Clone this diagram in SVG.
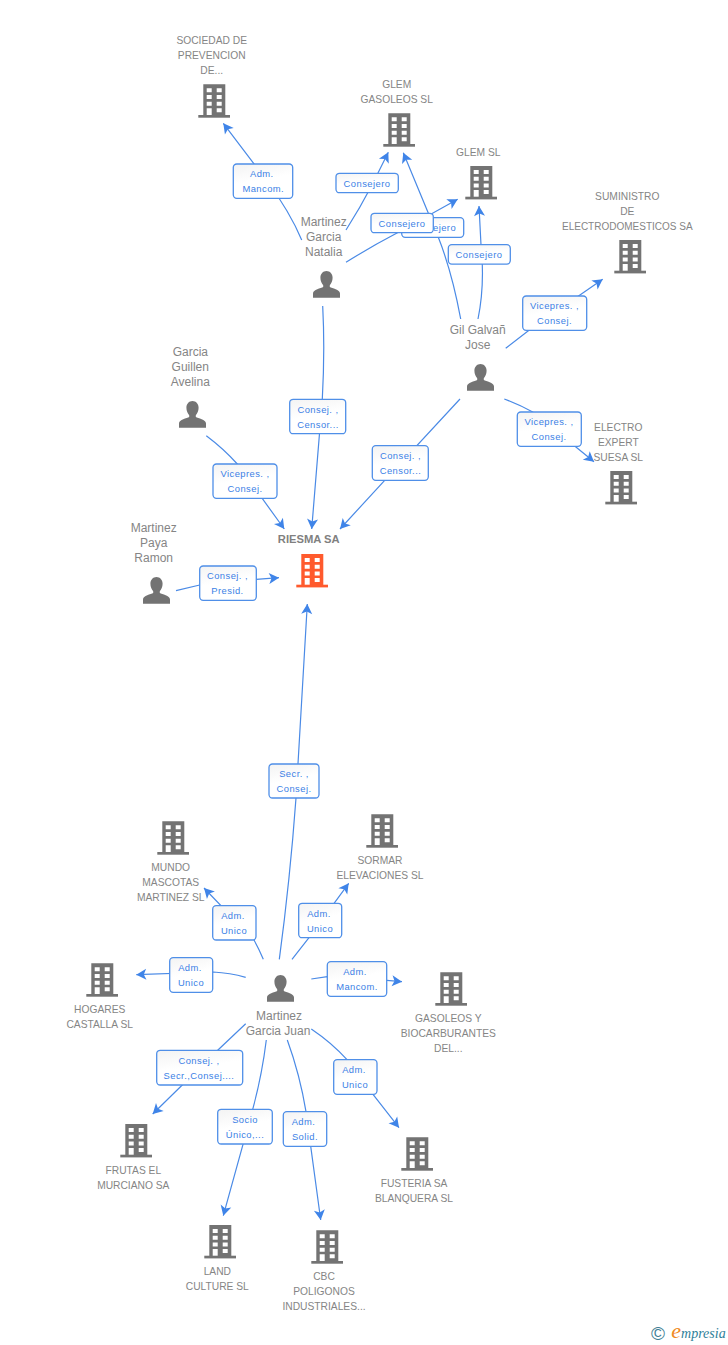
<svg xmlns="http://www.w3.org/2000/svg" xmlns:xlink="http://www.w3.org/1999/xlink" width="728" height="1345" viewBox="0 0 728 1345">
<style>
text{font-family:"Liberation Sans",Arial,sans-serif;text-anchor:middle}
.n{font-size:10.25px;fill:#858585}
.p{font-size:12px;fill:#858585}
.m{font-size:11.2px;font-weight:bold;fill:#808080}
.l{font-size:9.4px;fill:#3b7fe6;letter-spacing:.45px}
.c{fill:none;stroke:#4a8ae6;stroke-width:1.2;marker-end:url(#a)}
.b{fill:url(#g);stroke:#4f8fe8;stroke-width:1.3}
</style>
<defs>
<linearGradient id="g" x1="0" y1="0" x2="0.3" y2="1"><stop offset="0" stop-color="#f3f3f3"/><stop offset=".55" stop-color="#fff"/></linearGradient>
<marker id="a" markerUnits="userSpaceOnUse" markerWidth="14" markerHeight="14" viewBox="-12 -7 14 14" refX="0" refY="0" orient="auto"><path d="M0 0L-10 -5.5L-7.5 0L-10 5.5Z" fill="#3f84e8"/></marker>
<g id="bd"><rect x="0" y="30.7" width="31.7" height="2.7"/><path fill-rule="evenodd" d="M5 0H27V31H5ZM8.4 4v4h5V4ZM18.4 4v4h5V4ZM8.4 10.7v4h5v-4ZM18.4 10.7v4h5v-4ZM8.4 17.4v4h5v-4ZM18.4 17.4v4h5v-4ZM8.4 24v7h5v-7ZM18.4 24v4h5v-4Z"/></g>
<path id="pr" d="M13.5 0C17 0 19.6 2.8 19.6 6.8C19.6 10 18.3 12.6 16.8 14.2V16C19 17.2 27 18.5 27 22.5V26.7H0V22.5C0 18.5 8 17.2 10.2 16V14.2C8.7 12.6 7.4 10 7.4 6.8C7.4 2.8 10 0 13.5 0Z"/>
</defs>
<rect width="728" height="1345" fill="#fff"/>
<g id="connectors">
<path class="c" d="M301.7 240Q290 212 267 181L223.3 123.3"/>
<path class="c" d="M346 230Q360 208 372 185L388.3 152.3"/>
<path class="c" d="M346 262.3Q372 246 397 233L457.7 199.3"/>
<path class="c" d="M460.7 319Q452 272 438.3 237.3L403.3 152.7"/>
<path class="c" d="M478 319Q485 285 481 245L479 206"/>
<path class="c" d="M505.7 348.3L529 330.3L602.7 279.3"/>
<path class="c" d="M504.3 399Q520 405 532.7 412L575 446.3L594 461.7"/>
<path class="c" d="M460 399L384.7 480.3L340 529"/>
<path class="c" d="M322.7 306Q325 350 322.3 399.3L311.7 529"/>
<path class="c" d="M206.3 435.7Q224 449 237.3 464L284.3 529"/>
<path class="c" d="M176 590.7L199.7 585L256.3 579.3L279 577.7"/>
<path class="c" d="M279.3 959.3Q290 880 296 798L307.3 604"/>
<path class="c" d="M263.3 959.3Q259 949 254 940L204 888"/>
<path class="c" d="M245.7 977.3Q230 973 213.3 972L136.3 974.7"/>
<path class="c" d="M292 959.3L309 937.7L348.7 883.3"/>
<path class="c" d="M311.3 979L327.3 976.7L386.7 980.3L402 981.7"/>
<path class="c" d="M245.7 1023.7L217.7 1050.3L152.7 1114"/>
<path class="c" d="M266.3 1040Q262 1075 252.7 1109.3L223.3 1215.7"/>
<path class="c" d="M287.3 1040Q300 1075 306 1111.7L320.7 1220"/>
<path class="c" d="M311.3 1029Q332 1043 347 1059.7L373 1094.3L399 1127.7"/>
<g id="edge-labels">
<rect class="b" x="233.3" y="164" width="59.4" height="34.3" rx="3.5"/><text class="l" x="261.8" y="177">Adm.</text><text class="l" x="263.3" y="192">Mancom.</text>
<rect class="b" x="336" y="173.3" width="62.3" height="19.4" rx="3.5"/><text class="l" x="367" y="186.5">Consejero</text>
<rect class="b" x="401.7" y="217.7" width="62" height="19.6" rx="3.5"/><text class="l" x="432.7" y="231">Consejero</text>
<rect class="b" x="371" y="213.3" width="62.3" height="19.4" rx="3.5"/><text class="l" x="402" y="226.5">Consejero</text>
<rect class="b" x="448.3" y="244.7" width="62" height="19.4" rx="3.5"/><text class="l" x="479" y="258">Consejero</text>
<rect class="b" x="522.7" y="296" width="64" height="34.3" rx="3.5"/><text class="l" x="554.5" y="309">Vicepres. ,</text><text class="l" x="554.5" y="324">Consej.</text>
<rect class="b" x="517.3" y="412" width="64" height="34.3" rx="3.5"/><text class="l" x="549" y="425">Vicepres. ,</text><text class="l" x="549" y="440">Consej.</text>
<rect class="b" x="372.3" y="445.7" width="56" height="34.6" rx="3.5"/><text class="l" x="400.5" y="459">Consej. ,</text><text class="l" x="400.5" y="474">Censor...</text>
<rect class="b" x="289.7" y="399.3" width="56" height="34.4" rx="3.5"/><text class="l" x="318" y="413">Consej. ,</text><text class="l" x="318" y="428">Censor...</text>
<rect class="b" x="213" y="464" width="64" height="34.3" rx="3.5"/><text class="l" x="245" y="477">Vicepres. ,</text><text class="l" x="245" y="492">Consej.</text>
<rect class="b" x="199.7" y="566" width="56.6" height="34.3" rx="3.5"/><text class="l" x="227.5" y="579">Consej. ,</text><text class="l" x="227.5" y="594">Presid.</text>
<rect class="b" x="269" y="764" width="50" height="34" rx="3.5"/><text class="l" x="294" y="777">Secr. ,</text><text class="l" x="294" y="792">Consej.</text>
<rect class="b" x="212.7" y="905.7" width="43.3" height="34.3" rx="3.5"/><text class="l" x="233" y="919">Adm.</text><text class="l" x="234" y="934">Unico</text>
<rect class="b" x="169.7" y="957.7" width="43" height="34.6" rx="3.5"/><text class="l" x="190" y="971">Adm.</text><text class="l" x="191" y="986">Unico</text>
<rect class="b" x="298.7" y="903.3" width="43" height="34.4" rx="3.5"/><text class="l" x="319" y="917">Adm.</text><text class="l" x="320" y="932">Unico</text>
<rect class="b" x="327.3" y="961.7" width="59.4" height="34.6" rx="3.5"/><text class="l" x="355" y="975">Adm.</text><text class="l" x="357" y="990">Mancom.</text>
<rect class="b" x="156.7" y="1050.3" width="86" height="34.7" rx="3.5"/><text class="l" x="199" y="1064">Consej. ,</text><text class="l" x="199" y="1079">Secr.,Consej....</text>
<rect class="b" x="217.7" y="1109.3" width="54.6" height="34.7" rx="3.5"/><text class="l" x="245" y="1123">Socio</text><text class="l" x="245" y="1138">Único,...</text>
<rect class="b" x="283.3" y="1111.7" width="43.4" height="34.6" rx="3.5"/><text class="l" x="303.5" y="1125">Adm.</text><text class="l" x="305" y="1140">Solid.</text>
<rect class="b" x="333.7" y="1059.7" width="43.3" height="34.6" rx="3.5"/><text class="l" x="354" y="1073">Adm.</text><text class="l" x="355" y="1088">Unico</text>
</g>
</g>
<g id="riesma"><text class="m" x="308.7" y="543.3">RIESMA SA</text><use href="#bd" x="296.3" y="554" fill="#ff5a2d"/></g>
<g id="sociedad" fill="#737373"><text class="n" x="211.7" y="44">SOCIEDAD DE</text><text class="n" x="211.7" y="59">PREVENCION</text><text class="n" x="211.7" y="74">DE...</text><use href="#bd" x="198.3" y="84.3"/></g>
<g id="glem-gasoleos" fill="#737373"><text class="n" x="396.7" y="88">GLEM</text><text class="n" x="396.7" y="103">GASOLEOS SL</text><use href="#bd" x="383.3" y="113.3"/></g>
<g id="glem-sl" fill="#737373"><text class="n" x="478.3" y="156">GLEM SL</text><use href="#bd" x="465.3" y="166"/></g>
<g id="suministro" fill="#737373"><text class="n" x="627.3" y="200">SUMINISTRO</text><text class="n" x="627.3" y="215">DE</text><text class="n" x="627.3" y="230" style="font-size:10px">ELECTRODOMESTICOS SA</text><use href="#bd" x="614.3" y="240"/></g>
<g id="electro" fill="#737373"><text class="n" x="618.3" y="431">ELECTRO</text><text class="n" x="618.3" y="446">EXPERT</text><text class="n" x="618.3" y="461">SUESA SL</text><use href="#bd" x="605.3" y="471"/></g>
<g id="natalia" fill="#737373"><text class="p" x="323.7" y="226">Martinez</text><text class="p" x="323.7" y="241">Garcia</text><text class="p" x="323.7" y="256">Natalia</text><use href="#pr" x="313" y="271"/></g>
<g id="gil" fill="#737373"><text class="p" x="477.7" y="333.5">Gil Galvañ</text><text class="p" x="477.7" y="348.5">Jose</text><use href="#pr" x="467" y="364"/></g>
<g id="avelina" fill="#737373"><text class="p" x="190.3" y="356">Garcia</text><text class="p" x="190.3" y="371">Guillen</text><text class="p" x="190.3" y="386">Avelina</text><use href="#pr" x="179" y="401"/></g>
<g id="paya" fill="#737373"><text class="p" x="153.7" y="532">Martinez</text><text class="p" x="153.7" y="547">Paya</text><text class="p" x="153.7" y="562">Ramon</text><use href="#pr" x="143" y="577"/></g>
<g id="juan" fill="#737373"><use href="#pr" x="267" y="975"/><text class="p" x="279" y="1020">Martinez</text><text class="p" x="278" y="1035">Garcia Juan</text></g>
<g id="mundo" fill="#737373"><use href="#bd" x="157.3" y="821.3"/><text class="n" x="170.7" y="870.5">MUNDO</text><text class="n" x="170.7" y="885.5">MASCOTAS</text><text class="n" x="170.7" y="900.5">MARTINEZ SL</text></g>
<g id="hogares" fill="#737373"><use href="#bd" x="86.3" y="963.3"/><text class="n" x="99.7" y="1013">HOGARES</text><text class="n" x="99.7" y="1028">CASTALLA SL</text></g>
<g id="sormar" fill="#737373"><use href="#bd" x="366.3" y="814.3"/><text class="n" x="380" y="864">SORMAR</text><text class="n" x="380" y="879">ELEVACIONES SL</text></g>
<g id="gasoleos-bio" fill="#737373"><use href="#bd" x="435.3" y="972.3"/><text class="n" x="448.3" y="1022">GASOLEOS Y</text><text class="n" x="448.3" y="1037">BIOCARBURANTES</text><text class="n" x="448.3" y="1052">DEL...</text></g>
<g id="frutas" fill="#737373"><use href="#bd" x="120.3" y="1124"/><text class="n" x="133.3" y="1174">FRUTAS EL</text><text class="n" x="133.3" y="1189">MURCIANO SA</text></g>
<g id="land" fill="#737373"><use href="#bd" x="204.3" y="1225"/><text class="n" x="217.3" y="1275">LAND</text><text class="n" x="217.3" y="1290">CULTURE SL</text></g>
<g id="cbc" fill="#737373"><use href="#bd" x="311.3" y="1230.3"/><text class="n" x="324" y="1280">CBC</text><text class="n" x="324" y="1295">POLIGONOS</text><text class="n" x="324" y="1310">INDUSTRIALES...</text></g>
<g id="fusteria" fill="#737373"><use href="#bd" x="401.3" y="1137.3"/><text class="n" x="414" y="1187">FUSTERIA SA</text><text class="n" x="414" y="1202">BLANQUERA SL</text></g>
<g id="logo"><text x="658" y="1340" style="font-size:19px;fill:#3f7f96">©</text><text x="698.5" y="1338" style="font-family:'Liberation Serif',serif;font-style:italic;font-size:14px;fill:#2f7f9a"><tspan style="font-size:22px;fill:#f08a24">e</tspan>mpresia</text></g>
</svg>
